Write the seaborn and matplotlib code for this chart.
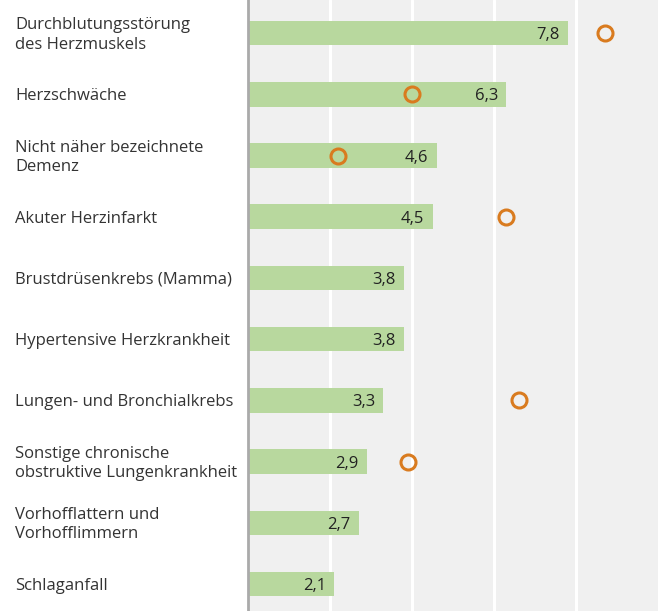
import matplotlib
matplotlib.use('Agg')
import matplotlib.pyplot as plt
import seaborn as sns
import numpy as np
import pandas as pd

# Data
categories = [
    'Durchblutungsstörung\ndes Herzmuskels',
    'Herzschwäche',
    'Nicht näher bezeichnete\nDemenz',
    'Akuter Herzinfarkt',
    'Brustdrüsenkrebs (Mamma)',
    'Hypertensive Herzkrankheit',
    'Lungen- und Bronchialkrebs',
    'Sonstige chronische\nobstruktive Lungenkrankheit',
    'Vorhofflattern und\nVorhofflimmern',
    'Schlaganfall',
]
bar_values = [7.8, 6.3, 4.6, 4.5, 3.8, 3.8, 3.3, 2.9, 2.7, 2.1]
marker_values = [8.7, 4.0, 2.2, 6.3, np.nan, np.nan, 6.6, 3.9, np.nan, np.nan]
value_labels = ['7,8', '6,3', '4,6', '4,5', '3,8', '3,8', '3,3', '2,9', '2,7', '2,1']

df = pd.DataFrame({'cat': categories, 'bar': bar_values, 'marker': marker_values})

sns.set_style('white')
plt.rcParams['font.family'] = ['Open Sans', 'DejaVu Sans']

fig = plt.figure(figsize=(6.61, 6.11), dpi=100)
ax = fig.add_axes([248 / 661, 0.0, 410 / 661, 1.0])
ax.set_facecolor('#f0f0f0')

sns.barplot(data=df, x='bar', y='cat', orient='h', color='#b8d89e',
            saturation=1, width=0.4, edgecolor='none', linewidth=0,
            ax=ax, zorder=2)

pts = df.dropna(subset=['marker'])
ax.plot(pts['marker'], pts['cat'], linestyle='none', marker='o',
        markersize=10.8, markerfacecolor='none', markeredgecolor='#d97b1f',
        markeredgewidth=2.2, zorder=4)

ax.set_xlim(0, 10)
ax.set_ylim(9.44, -0.54)
ax.set_xticks([2, 4, 6, 8])
ax.grid(axis='x', color='white', linewidth=2.2, zorder=1)
ax.set_axisbelow(True)
ax.tick_params(left=False, bottom=False, labelbottom=False, labelleft=False)
ax.set_xlabel('')
ax.set_ylabel('')

for side in ['top', 'right', 'bottom']:
    ax.spines[side].set_visible(False)
ax.spines['left'].set_color('#aaaaaa')
ax.spines['left'].set_linewidth(2)

for i, (v, lab) in enumerate(zip(bar_values, value_labels)):
    ax.text(v - 0.2, i, lab, ha='right', va='center_baseline', fontsize=12,
            color='#222222', zorder=5)

for i, cat in enumerate(categories):
    ax.text(-233 / 410, i + 0.03, cat, transform=ax.get_yaxis_transform(),
            ha='left', va='center', fontsize=12, color='#333333',
            linespacing=1.3)

fig.savefig('out.png', dpi=100)
